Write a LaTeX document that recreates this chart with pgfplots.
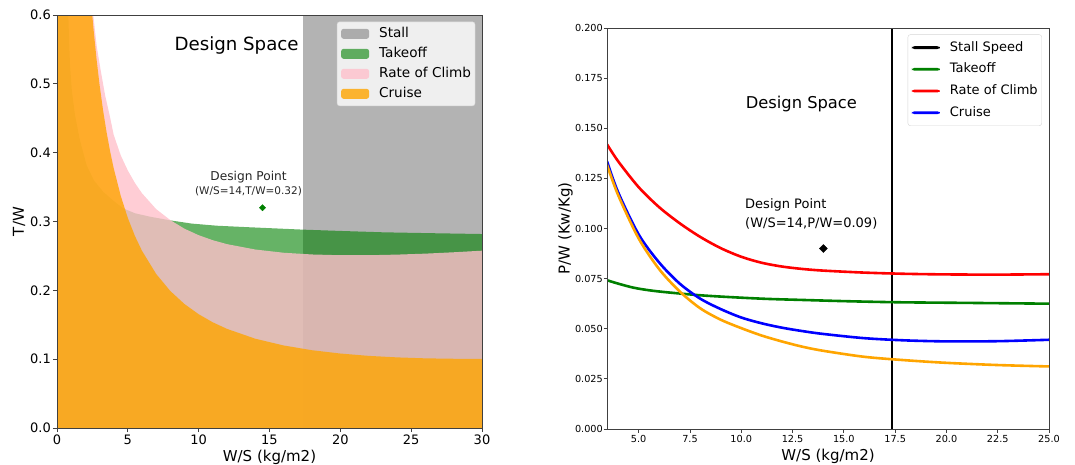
\documentclass[border=0pt]{standalone}
\usepackage{fontspec}
\setmainfont{DejaVu Sans}
\usepackage{pgfplots}
\pgfplotsset{compat=1.18}
\definecolor{mplorange}{HTML}{FFA500}
\definecolor{mplgreen}{HTML}{008000}
\definecolor{mplpink}{HTML}{FFC0CB}
\definecolor{mplgray}{HTML}{808080}
\definecolor{legframe}{HTML}{D6D6D6}
\newcommand\fs[1]{\fontsize{#1}{#1}\selectfont}
\pgfplotsset{
  areaimg/.style={legend image code/.code={\fill[##1] (0pt,-5pt) rectangle (28pt,5pt);}},
  lineimg/.style={legend image code/.code={\fill[##1, draw=none] (0pt,-1.4pt) rectangle (28pt,1.4pt);}},
  myaxis/.style={
    scale only axis, tick align=outside, tick pos=left,
    axis line style={black!75, line width=0.8pt},
    major tick style={black!75, line width=0.8pt},
    /pgf/number format/assume math mode=true,
    axis on top,
    label style={font=\fs{15}},
    legend cell align=left,
  },
}
\begin{document}
\begin{tikzpicture}[x=1pt,y=1pt]
\useasboundingbox (0,0) rectangle (1075,464);
% ---------------- left panel ----------------
\begin{axis}[myaxis,
  at={(57pt,36pt)}, anchor=south west, width=425pt, height=413pt,
  xmin=0, xmax=30, ymin=0, ymax=0.6,
  xtick={0,5,10,15,20,25,30},
  ytick={0,0.1,0.2,0.3,0.4,0.5,0.6},
  tick label style={font=\fs{13}},
  yticklabel style={/pgf/number format/fixed, /pgf/number format/fixed zerofill,
    /pgf/number format/precision=1, inner sep=0pt, xshift=-2pt},
  xticklabel style={inner sep=0pt, yshift=-3pt},
  major tick length=4pt,
  xlabel={W/S (kg/m2)}, ylabel={T/W},
  xlabel style={at={(axis description cs:0.5,-0.081)}, anchor=base},
  ylabel style={at={(axis description cs:-0.0894,0.5)}, anchor=center},
  legend style={at={(0.984,0.984)}, anchor=north east,
    fill=white, fill opacity=0.8, text opacity=1, draw=legframe,
    rounded corners=2.5pt, inner xsep=4pt, inner ysep=5.5pt,
    font=\fs{13.6},
    nodes={inner sep=0pt, text height=10pt, text depth=3pt},
    row sep=7pt,
    /tikz/every odd column/.append style={column sep=10pt}},
]
\addplot[fill=mplgray, fill opacity=0.6, draw=none, areaimg]
  coordinates {(17.34,0.6) (30,0.6)} \closedcycle;
\addlegendentry{Stall}
\addplot[fill=mplgreen, fill opacity=0.6, draw=none, areaimg]
  coordinates {(0,0.6) (0.8,0.6) (0.86,0.56) (0.92,0.527) (1.05,0.49) (1.27,0.455)
  (1.6,0.42) (2.09,0.382) (2.6,0.36) (3.27,0.343) (4,0.33) (4.68,0.319) (5.5,0.312)
  (6.56,0.307) (7.98,0.3017) (9.5,0.297) (11.27,0.2939) (13.62,0.2916) (17.34,0.2882)
  (20,0.2863) (23.03,0.2843) (26.5,0.283) (30,0.2818)} \closedcycle;
\addlegendentry{Takeoff}
\addplot[fill=mplpink, fill opacity=0.8, draw=none, areaimg]
  coordinates {(0,0.6) (2.56,0.6) (2.8,0.555) (3.08,0.52) (3.4,0.483) (3.74,0.452)
  (4,0.426) (4.5,0.396) (5,0.374) (5.5,0.356) (6,0.341) (7,0.318) (8,0.302) (9,0.2895)
  (10,0.2801) (11,0.2728) (12,0.2671) (14,0.2593) (16,0.2546) (18,0.2521) (20,0.251)
  (22,0.251) (24,0.2519) (26,0.2533) (28,0.2553) (30,0.2576)} \closedcycle;
\addlegendentry{Rate of Climb}
\addplot[fill=mplorange, fill opacity=0.8, draw=none, areaimg]
  coordinates {(0,0.6) (2.49,0.6) (2.6,0.5748) (2.8,0.5344) (3,0.4994) (3.25,0.4618)
  (3.5,0.4297) (3.75,0.4019) (4,0.3776) (4.5,0.3373) (5,0.3051) (5.5,0.279) (6,0.2574)
  (7,0.2238) (8,0.199) (9,0.1801) (10,0.1653) (11,0.1535) (12,0.144) (14,0.1297)
  (16,0.1199) (18,0.113) (20,0.1082) (22,0.1048) (24,0.1026) (26,0.1012) (28,0.1006)
  (30,0.1004)} \closedcycle;
\addlegendentry{Cruise}
\addplot[only marks, mark=square*, mark size=2.2pt, color=mplgreen,
  mark options={rotate=45}, forget plot] coordinates {(14.5,0.32)};
\node[anchor=base west, font=\fs{18.2}] at (axis cs:8.05,0.549) {Design Space};
\node[anchor=base, font=\fs{12.2}, text=black!85] at (axis cs:13.52,0.3593) {Design Point};
\node[anchor=base, font=\fs{10.5}, text=black!85] at (axis cs:13.52,0.3395) {(W/S=14,T/W=0.32)};
\end{axis}
% ---------------- right panel ----------------
\begin{axis}[myaxis,
  at={(607pt,35pt)}, anchor=south west, width=442pt, height=401pt,
  xmin=3.455, xmax=25, ymin=0, ymax=0.2,
  xtick={5,7.5,10,12.5,15,17.5,20,22.5,25},
  ytick={0,0.025,0.05,0.075,0.1,0.125,0.15,0.175,0.2},
  tick label style={font=\fs{9.7}},
  xticklabel style={/pgf/number format/fixed, /pgf/number format/fixed zerofill,
    /pgf/number format/precision=1, inner sep=0pt, yshift=-3pt},
  yticklabel style={/pgf/number format/fixed, /pgf/number format/fixed zerofill,
    /pgf/number format/precision=3, inner sep=0pt, xshift=-0.5pt},
  major tick length=3.5pt,
  xlabel={W/S (kg/m2)}, ylabel={P/W (Kw/Kg)},
  xlabel style={at={(axis description cs:0.5,-0.0773)}, anchor=base},
  ylabel style={at={(axis description cs:-0.0939,0.5)}, anchor=center},
  legend style={at={(0.984,0.984)}, anchor=north east,
    fill=white, text opacity=1, draw=legframe,
    rounded corners=2.5pt, inner xsep=4pt, inner ysep=6.5pt,
    font=\fs{13},
    nodes={inner sep=0pt, text height=10pt, text depth=3pt},
    row sep=8.7pt,
    /tikz/every odd column/.append style={column sep=10pt}},
]
\addplot[black, line width=2.6pt, lineimg] coordinates {(17.35,0) (17.35,0.2)};
\addlegendentry{Stall Speed}
\addplot[mplgreen, line width=2.6pt, smooth, lineimg] coordinates {
  (3.455,0.0742) (4.0,0.0725) (4.74,0.0705) (5.5,0.0692) (6.36,0.0682) (7.99,0.0667)
  (9.61,0.0657) (11.24,0.0649) (12.86,0.0644) (15.3,0.0637) (17.73,0.0632)
  (20.98,0.0629) (25,0.0625)};
\addlegendentry{Takeoff}
\addplot[red, line width=2.6pt, smooth, lineimg] coordinates {
  (3.455,0.1420) (4,0.1335) (5,0.1206) (6,0.1106) (7,0.1026) (8,0.0958) (9,0.0902)
  (10,0.0859) (11,0.0829) (12,0.0810) (13,0.0798) (14,0.0790) (16,0.0780)
  (18,0.0774) (20,0.0771) (22.5,0.0770) (25,0.0772)};
\addlegendentry{Rate of Climb}
\addplot[blue, line width=2.6pt, smooth, lineimg] coordinates {
  (3.455,0.1335) (4,0.1180) (5,0.0970) (6,0.0830) (7,0.0725) (8,0.0650) (9,0.0598)
  (10,0.0556) (11,0.0527) (12,0.0505) (13,0.0488) (14,0.0474) (16,0.0453)
  (18,0.0442) (20,0.0437) (22.5,0.0438) (25,0.0445)};
\addlegendentry{Cruise}
\addplot[mplorange, line width=2.6pt, smooth, forget plot] coordinates {
  (3.455,0.1318) (4,0.1166) (5,0.0950) (6,0.0797) (7,0.0686) (8,0.0602) (9,0.0545)
  (10,0.0503) (11,0.0466) (12,0.0436) (13,0.0410) (14,0.0390) (16,0.0360)
  (18,0.0343) (20,0.0330) (22.5,0.0319) (25,0.0312)};
\addplot[only marks, mark=square*, mark size=2.8pt, black,
  mark options={rotate=45}, forget plot] coordinates {(14,0.09)};
\node[anchor=base west, font=\fs{16.3}] at (axis cs:10.05,0.1599) {Design Space};
\node[anchor=base west, font=\fs{13}] at (axis cs:10.02,0.110) {Design Point};
\node[anchor=base west, font=\fs{13}] at (axis cs:10.02,0.1004) {(W/S=14,P/W=0.09)};
\end{axis}
\end{tikzpicture}
\end{document}
